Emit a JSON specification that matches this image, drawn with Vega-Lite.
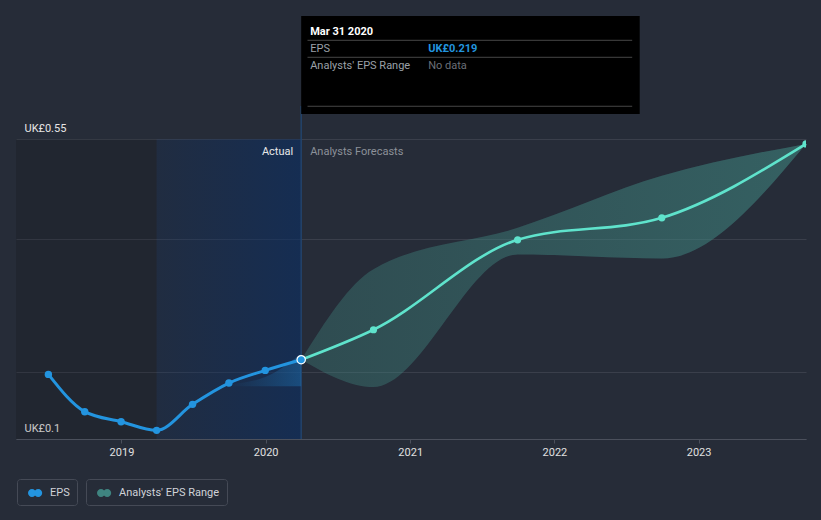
{
  "$schema": "https://vega.github.io/schema/vega-lite/v6.json",
  "width": 790,
  "height": 439,
  "autosize": {"type": "none"},
  "padding": {"left": 16, "top": 0, "right": 15, "bottom": 81},
  "background": "#262c38",
  "config": {
    "view": {"stroke": null},
    "font": "Roboto",
    "text": {"font": "Roboto"}
  },
  "datasets": {
    "actual": [
      {"date": "2018-06-30", "eps": 0.197},
      {"date": "2018-09-30", "eps": 0.141},
      {"date": "2018-12-31", "eps": 0.126},
      {"date": "2019-03-31", "eps": 0.113},
      {"date": "2019-06-30", "eps": 0.152},
      {"date": "2019-09-30", "eps": 0.184},
      {"date": "2019-12-31", "eps": 0.203},
      {"date": "2020-03-31", "eps": 0.219}
    ],
    "forecast": [
      {"date": "2020-03-31", "eps": 0.219},
      {"date": "2020-09-30", "eps": 0.264},
      {"date": "2021-09-30", "eps": 0.399},
      {"date": "2022-09-30", "eps": 0.432},
      {"date": "2023-09-30", "eps": 0.543}
    ],
    "range": [
      {"date": "2020-03-31", "low": 0.219, "high": 0.219},
      {"date": "2020-09-30", "low": 0.178, "high": 0.355},
      {"date": "2021-09-30", "low": 0.377, "high": 0.417},
      {"date": "2022-09-30", "low": 0.371, "high": 0.495},
      {"date": "2023-09-30", "low": 0.543, "high": 0.543}
    ],
    "pastRange": [
      {"date": "2019-09-30", "low": 0.179, "high": 0.182},
      {"date": "2019-12-31", "low": 0.179, "high": 0.193},
      {"date": "2020-03-31", "low": 0.179, "high": 0.228}
    ],
    "periods": [
      {"date": "2018-04-09", "end": "2019-03-31", "period": "older"},
      {"date": "2019-03-31", "end": "2020-03-31", "period": "last12"}
    ],
    "tooltip": [
      {"date": "2020-03-31", "title": "Mar 31 2020", "label": "UK£0.219"}
    ]
  },
  "layer": [
    {
      "data": {"name": "periods"},
      "transform": [{"filter": "datum.period === 'older'"}],
      "mark": {"type": "rect", "fill": "#000000", "opacity": 0.13, "clip": true},
      "encoding": {
        "x": {"field": "date", "type": "temporal", "title": null},
        "x2": {"field": "end"},
        "y": {"datum": 0.1}, "y2": {"datum": 0.55}
      }
    },
    {
      "data": {"name": "periods"},
      "transform": [{"filter": "datum.period === 'last12'"}],
      "mark": {
        "type": "rect",
        "clip": true,
        "fill": {
          "gradient": "linear", "x1": 0, "x2": 1, "y1": 0, "y2": 0,
          "stops": [
            {"offset": 0, "color": "rgba(10,46,100,0.2)"},
            {"offset": 1, "color": "rgba(10,46,100,0.6)"}
          ]
        }
      },
      "encoding": {
        "x": {"field": "date", "type": "temporal", "title": null},
        "x2": {"field": "end"},
        "y": {"datum": 0.1}, "y2": {"datum": 0.55}
      }
    },
    {
      "data": {"name": "tooltip"},
      "mark": {"type": "rule", "color": "#23446b", "strokeWidth": 1.5},
      "encoding": {
        "x": {"field": "date", "type": "temporal", "title": null},
        "y": {"datum": 0.1}, "y2": {"datum": 0.6}
      }
    },
    {
      "data": {"name": "pastRange"},
      "mark": {
        "type": "area",
        "interpolate": "monotone",
        "fill": {
          "gradient": "linear", "x1": 0, "x2": 1, "y1": 0, "y2": 0,
          "stops": [
            {"offset": 0, "color": "rgba(35,148,223,0)"},
            {"offset": 1, "color": "rgba(35,148,223,0.3)"}
          ]
        }
      },
      "encoding": {
        "x": {"field": "date", "type": "temporal", "title": null},
        "y": {"field": "low", "type": "quantitative", "title": null},
        "y2": {"field": "high"}
      }
    },
    {
      "data": {"name": "range"},
      "mark": {"type": "area", "interpolate": "monotone", "fillOpacity": 0.36},
      "encoding": {
        "x": {"field": "date", "type": "temporal", "title": null},
        "y": {"field": "low", "type": "quantitative", "title": null},
        "y2": {"field": "high"},
        "fill": {
          "datum": "Analysts' EPS Range",
          "scale": {"domain": ["Analysts' EPS Range"], "range": ["#3f8480"]},
          "legend": {
            "orient": "none", "legendX": 70, "legendY": 479, "title": null,
            "strokeColor": "#454a56", "cornerRadius": 3, "padding": 7,
            "symbolSize": 196,
            "symbolType": "M-0.428,0A0.571,0.571 0 1,0 0.714,0A0.571,0.571 0 1,0 -0.428,0ZM0.459,0A0.571,0.571 0 1,0 1.601,0A0.571,0.571 0 1,0 0.459,0Z",
            "symbolOpacity": 1, "symbolStrokeWidth": 0,
            "labelOffset": 12, "labelFontSize": 11, "labelFont": "Roboto", "labelColor": "#d0d3d8",
            "labelExpr": "datum.label + '\u2002'"
          }
        }
      }
    },
    {
      "data": {"name": "range"},
      "mark": {
        "type": "area",
        "interpolate": "monotone",
        "fill": {
          "gradient": "linear", "x1": 0, "x2": 1, "y1": 0, "y2": 0,
          "stops": [
            {"offset": 0, "color": "rgba(63,132,128,0)"},
            {"offset": 1, "color": "rgba(63,132,128,0.36)"}
          ]
        }
      },
      "encoding": {
        "x": {"field": "date", "type": "temporal", "title": null},
        "y": {"field": "low", "type": "quantitative", "title": null},
        "y2": {"field": "high"}
      }
    },
    {
      "data": {"name": "actual"},
      "mark": {"type": "line", "interpolate": "monotone", "color": "#2394df", "strokeWidth": 3},
      "encoding": {
        "x": {
          "field": "date",
          "type": "temporal",
          "title": null,
          "scale": {
            "type": "utc",
            "domain": [
              {"year": 2018, "month": 4, "date": 9, "utc": true},
              {"year": 2023, "month": 9, "date": 30, "utc": true}
            ]
          },
          "axis": {
            "format": "%Y",
            "tickCount": {"interval": "year", "step": 1},
            "grid": false,
            "domainColor": "#4b505c",
            "tickColor": "#4b505c",
            "tickSize": 4,
            "labelColor": "#e0e0e0",
            "labelFontSize": 11,
            "labelFont": "Roboto",
            "labelPadding": 3,
            "title": null
          }
        },
        "y": {
          "field": "eps",
          "type": "quantitative",
          "title": null,
          "scale": {"domain": [0.1, 0.759], "nice": false, "zero": false},
          "axis": {
            "values": [0.1, 0.2, 0.4, 0.55],
            "grid": true,
            "gridColor": "#3a3f4b",
            "domain": false,
            "ticks": false,
            "tickSize": 0,
            "labelAlign": "left",
            "labelPadding": -8,
            "labelBaseline": "alphabetic",
            "labelOffset": -8,
            "labelExpr": "datum.value < 0.15 ? 'UK£0.1' : datum.value > 0.5 ? 'UK£0.55' : ''",
            "labelColor": "#e6e6e6",
            "labelFontSize": 11,
            "labelFont": "Roboto",
            "title": null
          }
        }
      }
    },
    {
      "data": {"name": "forecast"},
      "mark": {"type": "line", "interpolate": "monotone", "color": "#5fe3cc", "strokeWidth": 2.6},
      "encoding": {
        "x": {"field": "date", "type": "temporal", "title": null},
        "y": {"field": "eps", "type": "quantitative", "title": null}
      }
    },
    {
      "data": {"name": "actual"},
      "mark": {"type": "circle", "size": 55, "opacity": 1},
      "encoding": {
        "x": {"field": "date", "type": "temporal", "title": null},
        "y": {"field": "eps", "type": "quantitative", "title": null},
        "color": {
          "datum": "EPS",
          "scale": {"domain": ["EPS"], "range": ["#2394df"]},
          "legend": {
            "orient": "none", "legendX": 1, "legendY": 479, "title": null,
            "strokeColor": "#454a56", "cornerRadius": 3, "padding": 7,
            "symbolSize": 196,
            "symbolType": "M-0.428,0A0.571,0.571 0 1,0 0.714,0A0.571,0.571 0 1,0 -0.428,0ZM0.459,0A0.571,0.571 0 1,0 1.601,0A0.571,0.571 0 1,0 0.459,0Z",
            "symbolOpacity": 1, "symbolStrokeWidth": 0,
            "labelOffset": 12, "labelFontSize": 11, "labelFont": "Roboto", "labelColor": "#d0d3d8",
            "labelExpr": "datum.label + '\u2002'"
          }
        }
      }
    },
    {
      "data": {"name": "forecast"},
      "transform": [{"filter": "datum.eps > 0.22"}],
      "mark": {"type": "circle", "size": 52, "opacity": 1, "color": "#5fe3cc", "clip": true},
      "encoding": {
        "x": {"field": "date", "type": "temporal", "title": null},
        "y": {"field": "eps", "type": "quantitative", "title": null}
      }
    },
    {
      "data": {"name": "actual"},
      "transform": [{"filter": "datum.eps > 0.215"}],
      "mark": {"type": "circle", "size": 70, "opacity": 1, "fill": "#2394df", "stroke": "#ffffff", "strokeWidth": 1.2},
      "encoding": {
        "x": {"field": "date", "type": "temporal", "title": null},
        "y": {"field": "eps", "type": "quantitative", "title": null}
      }
    },
    {
      "data": {"name": "tooltip"},
      "mark": {"type": "text", "align": "right", "baseline": "alphabetic", "dx": -8, "fontSize": 11, "color": "#e8e8e8", "text": "Actual"},
      "encoding": {
        "x": {"field": "date", "type": "temporal", "title": null},
        "y": {"datum": 0.526}
      }
    },
    {
      "data": {"name": "tooltip"},
      "mark": {"type": "text", "align": "left", "baseline": "alphabetic", "dx": 9, "fontSize": 11, "color": "#8c9199", "text": "Analysts Forecasts"},
      "encoding": {
        "x": {"field": "date", "type": "temporal", "title": null},
        "y": {"datum": 0.526}
      }
    },
    {
      "data": {"name": "tooltip"},
      "mark": {"type": "rect", "fill": "#000000"},
      "encoding": {
        "x": {"field": "date", "type": "temporal", "title": null},
        "x2": {"datum": {"year": 2022, "month": 8, "date": 5, "utc": true}},
        "y": {"datum": 0.588},
        "y2": {"datum": 0.735}
      }
    },
    {
      "data": {"name": "tooltip"},
      "mark": {"type": "rule", "color": "#474747", "strokeWidth": 1},
      "encoding": {
        "x": {"datum": {"year": 2020, "month": 4, "date": 16, "utc": true}},
        "x2": {"datum": {"year": 2022, "month": 7, "date": 17, "utc": true}},
        "y": {"datum": 0.6985}
      }
    },
    {
      "data": {"name": "tooltip"},
      "mark": {"type": "rule", "color": "#474747", "strokeWidth": 1},
      "encoding": {
        "x": {"datum": {"year": 2020, "month": 4, "date": 16, "utc": true}},
        "x2": {"datum": {"year": 2022, "month": 7, "date": 17, "utc": true}},
        "y": {"datum": 0.673}
      }
    },
    {
      "data": {"name": "tooltip"},
      "mark": {"type": "rule", "color": "#474747", "strokeWidth": 1},
      "encoding": {
        "x": {"datum": {"year": 2020, "month": 4, "date": 16, "utc": true}},
        "x2": {"datum": {"year": 2022, "month": 7, "date": 17, "utc": true}},
        "y": {"datum": 0.5995}
      }
    },
    {
      "data": {"name": "tooltip"},
      "mark": {"type": "text", "align": "left", "baseline": "alphabetic", "dx": 9, "fontSize": 11, "fontWeight": "bold", "color": "#ffffff"},
      "encoding": {
        "x": {"field": "date", "type": "temporal", "title": null},
        "y": {"datum": 0.7064},
        "text": {"field": "title"}
      }
    },
    {
      "data": {"name": "tooltip"},
      "mark": {"type": "text", "align": "left", "baseline": "alphabetic", "dx": 9, "fontSize": 11, "color": "#9ba0a8", "text": "EPS"},
      "encoding": {
        "x": {"field": "date", "type": "temporal", "title": null},
        "y": {"datum": 0.6805}
      }
    },
    {
      "data": {"name": "tooltip"},
      "mark": {"type": "text", "align": "left", "baseline": "alphabetic", "dx": 127, "fontSize": 11, "fontWeight": "bold", "color": "#2394df"},
      "encoding": {
        "x": {"field": "date", "type": "temporal", "title": null},
        "y": {"datum": 0.6805},
        "text": {"field": "label"}
      }
    },
    {
      "data": {"name": "tooltip"},
      "mark": {"type": "text", "align": "left", "baseline": "alphabetic", "dx": 9, "fontSize": 11, "color": "#9ba0a8", "text": "Analysts' EPS Range"},
      "encoding": {
        "x": {"field": "date", "type": "temporal", "title": null},
        "y": {"datum": 0.655}
      }
    },
    {
      "data": {"name": "tooltip"},
      "mark": {"type": "text", "align": "left", "baseline": "alphabetic", "dx": 127, "fontSize": 11, "color": "#6b6f77", "text": "No data"},
      "encoding": {
        "x": {"field": "date", "type": "temporal", "title": null},
        "y": {"datum": 0.655}
      }
    }
  ]
}
